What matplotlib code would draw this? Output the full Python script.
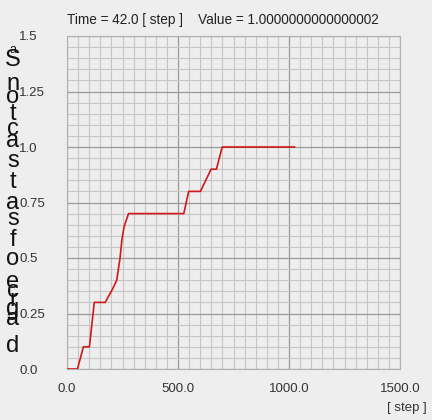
import matplotlib
matplotlib.use("Agg")
import matplotlib.pyplot as plt
from matplotlib.ticker import MultipleLocator
import numpy as np

plt.rcParams['font.family'] = ['Liberation Sans', 'DejaVu Sans']

# data
steps = [0, 47, 74, 101, 113, 123, 172, 205, 224, 239, 247, 257, 277,
         526, 548, 601, 649, 673, 699, 1025]
value = [0.0, 0.0, 0.1, 0.1, 0.21, 0.3, 0.3, 0.36, 0.4, 0.5, 0.58, 0.64, 0.7,
         0.7, 0.8, 0.8, 0.9, 0.9, 1.0, 1.0]

xticks = [0, 500, 1000, 1500]
xlabels = ["0.0", "500.0", "1000.0", "1500.0"]
yticks = [0, 0.25, 0.5, 0.75, 1.0, 1.25, 1.5]
ylabels = ["0.0", "0.25", "0.5", "0.75", "1.0", "1.25", "1.5"]
title = "Time = 42.0 [ step ]    Value = 1.0000000000000002"
unit = "[ step ]"

# garbled vertical axis label, letter by letter (pixel row from top)
ychars = ["a", "S", "n", "o", "t", "c", "a", "s", "t", "a", "s", "f", "o",
          "e", "c", "r", "g", "a", "d"]
yrows = [50, 60, 84, 97, 114, 129, 141, 161, 182, 203, 219, 240, 259,
         282, 291, 300, 309, 319, 346]

bg = "#eeeeee"
W, H = 432, 420
fig = plt.figure(figsize=(W / 100, H / 100), dpi=100, facecolor=bg)
ax = fig.add_axes([67 / W, (H - 369) / H, 333 / W, 333 / H], facecolor=bg)

ax.plot(steps, value, color="#d01818", lw=1.2, zorder=3)

ax.set_xlim(0, 1500)
ax.set_ylim(0, 1.5)
ax.xaxis.set_major_locator(MultipleLocator(250))
ax.xaxis.set_minor_locator(MultipleLocator(50))
ax.yaxis.set_major_locator(MultipleLocator(0.25))
ax.yaxis.set_minor_locator(MultipleLocator(0.05))
ax.grid(which="major", color="#9a9a9a", lw=0.9)
ax.grid(which="minor", color="#c6c6c6", lw=0.8)
ax.set_axisbelow(True)
for s in ax.spines.values():
    s.set_color("#b0b0b0")
    s.set_linewidth(0.8)

ax.set_xticks(xticks, xlabels)
ax.set_yticks(yticks, ylabels)
ax.tick_params(which="both", length=0, labelsize=9.5, colors="#333333")
ax.tick_params(axis="x", pad=10)
ax.tick_params(axis="y", pad=34.5)
for t in ax.get_yticklabels():
    t.set_horizontalalignment("left")

fig.text(67 / W, 1 - 20 / H, title, fontsize=9.8, color="#222222",
         ha="left", va="center")
fig.text(427 / W, 1 - 408 / H, unit, fontsize=9.5, color="#333333",
         ha="right", va="center")

for ch, row in zip(ychars, yrows):
    size = 9 if row == 50 else 17
    fig.text(13 / W, 1 - row / H, ch, fontsize=size, color="#111111",
             ha="center", va="center")

fig.savefig("out.png", dpi=100, facecolor=bg)
